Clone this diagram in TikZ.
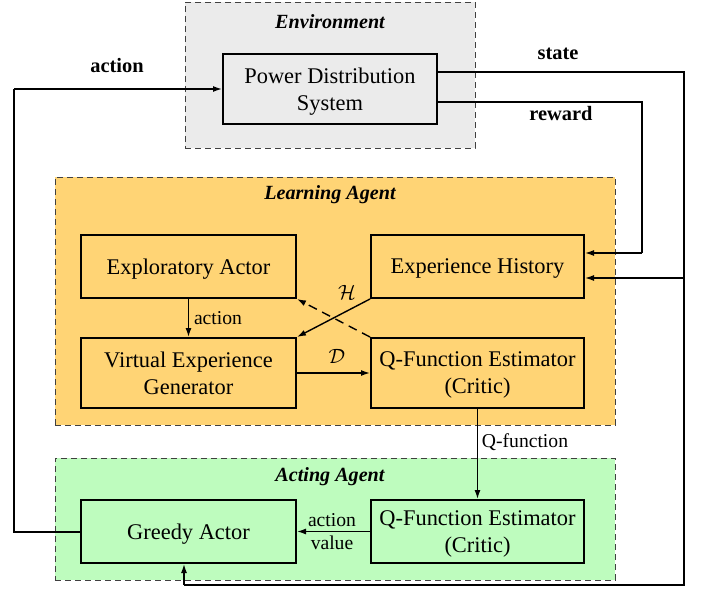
\documentclass[tikz,border=0pt]{standalone}
\usepackage{fontspec}
\setmainfont{Liberation Serif}
\usetikzlibrary{arrows.meta,calc}
\definecolor{envgray}{HTML}{EBEBEB}
\definecolor{learnorange}{HTML}{FFD475}
\definecolor{actgreen}{HTML}{BEFCBE}
\definecolor{dashgray}{HTML}{404040}
\begin{document}
\begin{tikzpicture}[x=1bp,y=-1bp,
  container/.style={draw=dashgray,dashed,line width=0.9bp,dash pattern=on 6bp off 4bp,inner sep=0pt},
  box/.style={draw=black,line width=2bp,inner sep=0pt,text depth=0pt,align=center,font=\fontsize{22.5}{27}\selectfont},
  title/.style={font=\fontsize{20.2}{22}\selectfont\bfseries\itshape},
  biglab/.style={font=\fontsize{20.5}{22}\selectfont\bfseries},
  lab/.style={font=\fontsize{19.7}{22}\selectfont},
  conn/.style={line width=1.4bp,-{Latex[length=9bp,width=6bp]}},
  line/.style={line width=1.4bp}]
\useasboundingbox (0,0) rectangle (702,605);
% containers
\node[container,fill=envgray,minimum width=290bp,minimum height=146bp] (env) at (330,75) {};
\node[container,fill=learnorange,minimum width=560bp,minimum height=248bp] (learn) at (335,301) {};
\node[container,fill=actgreen,minimum width=560bp,minimum height=122bp] (act) at (335,519) {};
\node[title] (envt) at (330,22) {Environment};
\node[title] (learnt) at (330,195) {Learning Agent};
\node[title] (actt) at (330,477) {Acting Agent};
% boxes
\node[box,fill=envgray,minimum width=214bp,minimum height=70bp] (pds) at (330,89) {Power Distribution\\System};
\node[box,fill=learnorange,minimum width=215bp,minimum height=63bp] (ea) at (188.5,266.5) {Exploratory Actor};
\node[box,fill=learnorange,minimum width=213bp,minimum height=63bp] (eh) at (477.5,266.5) {Experience History};
\node[box,fill=learnorange,minimum width=215bp,minimum height=70bp] (veg) at (188.5,373) {Virtual Experience\\Generator};
\node[box,fill=learnorange,minimum width=213bp,minimum height=70bp] (qc) at (477.5,373) {Q-Function Estimator\\(Critic)};
\node[box,fill=actgreen,minimum width=215bp,minimum height=63bp] (ga) at (188.5,531.5) {Greedy Actor};
\node[box,fill=actgreen,minimum width=213bp,minimum height=63bp] (qa) at (477.5,531.5) {Q-Function Estimator\\(Critic)};
% coordinates for outer loops
\coordinate (sA) at ($(pds.east)+(0,-17)$);
\coordinate (sB) at (684,72);
\coordinate (sC) at (684,585);
\coordinate (sD) at (184,585);
\coordinate (sE) at (684,278);
\coordinate (rA) at ($(pds.east)+(0,13)$);
\coordinate (rB) at (642,102);
\coordinate (rC) at (642,253);
\coordinate (aA) at (14,532);
\coordinate (aB) at (14,89);
% state
\draw[line] (sA) -- (sB) -- (sC) -- (sD);
\draw[conn] (sD) -- (sD |- ga.south);
\draw[conn] (sE) -- (sE -| eh.east);
% reward
\draw[line] (rA) -- (rB) -- (rC);
\draw[conn] (rC) -- (rC -| eh.east);
% action
\draw[line] (ga.west |- aA) -- (aA) -- (aB);
\draw[conn] (aB) -- (pds.west);
\node[biglab] (actl) at (117,66) {action};
\node[biglab] (statel) at (558,54) {state};
\node[biglab] (rewardl) at (561,114) {reward};
% inner connectors
\draw[conn] (ea.south) -- (veg.north);
\node[lab] (al) at (218,318) {action};
\draw[conn] (eh.south west) -- (veg.north east);
\draw[conn,dashed,dash pattern=on 9bp off 6bp] (qc.north west) -- (ea.south east);
\node[lab] (hl) at (347,292) {$\mathcal{H}$};
\draw[conn] (veg.east) -- (qc.west);
\node[lab] (dl) at (337,356) {$\mathcal{D}$};
\draw[conn] (qc.south) -- (qa.north);
\node[lab] (ql) at (525,442) {Q-function};
\draw[conn] (qa.west) -- (ga.east);
\node[lab] (avl1) at (332,520) {action};
\node[lab] (avl2) at (332,543) {value};
\end{tikzpicture}
\end{document}
